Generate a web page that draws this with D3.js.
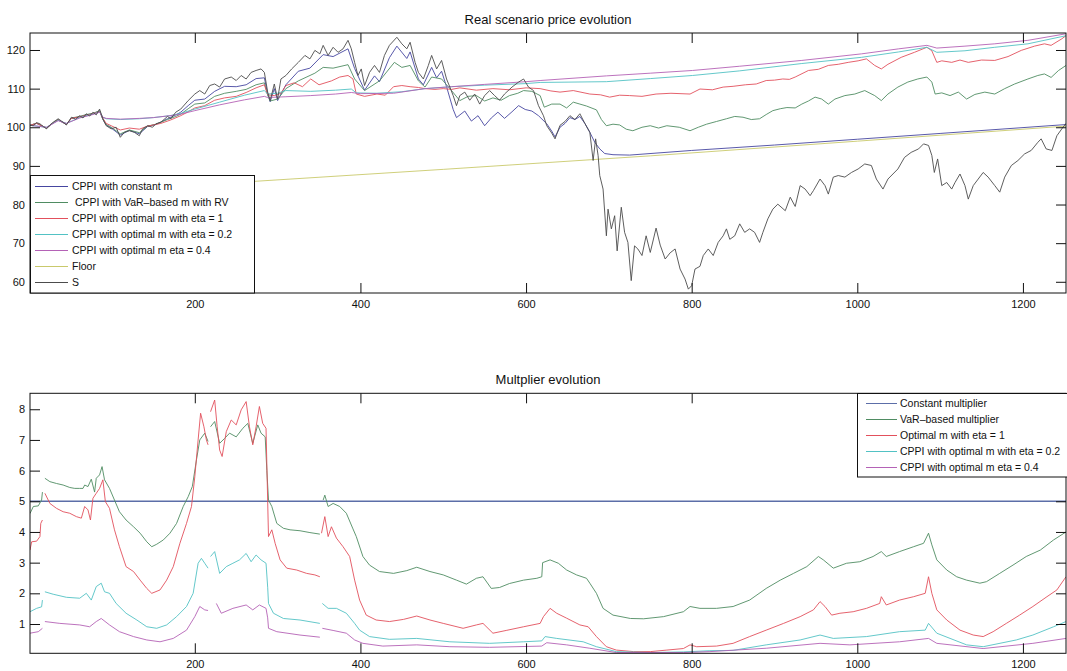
<!DOCTYPE html>
<html>
<head>
<meta charset="utf-8">
<script src="https://cdn.jsdelivr.net/npm/d3@7/dist/d3.min.js"></script>
<style>
  html, body { margin: 0; padding: 0; background: #fff; }
  svg { display: block; }
  text { font-family: "Liberation Sans", Arial, Helvetica, sans-serif; fill: #111; }
</style>
</head>
<body>
<svg id="fig" width="1067" height="671"></svg>
<script>
// ---------- data: [day, value]; null marks a gap ----------
const xTicks = [200, 400, 600, 800, 1000, 1200];
const priceTicks = [60, 70, 80, 90, 100, 110, 120];
const multTicks = [1, 2, 3, 4, 5, 6, 7, 8];

const priceS = [[1,100.5],[5,100.4],[9,101.2],[13,100.9],[17,100.2],[21,99.6],[25,100.6],[29,101.3],[35,102.2],[41,101.3],[45,100.6],[51,102.6],[56,102.1],[61,103.0],[65,102.4],[69,103.5],[73,102.9],[77,103.9],[81,103.2],[85,104.7],[89,102.2],[93,100.4],[99,99.6],[105,100.0],[110,97.4],[115,98.7],[121,99.1],[127,98.7],[133,97.8],[137,99.6],[143,100.4],[149,100.0],[153,100.9],[159,101.3],[167,102.8],[171,102.2],[177,103.9],[183,104.7],[192,106.9],[200,108.6],[206,109.5],[212,108.6],[218,110.8],[224,111.2],[230,110.4],[236,112.5],[244,113.0],[250,112.1],[256,113.4],[262,112.5],[268,114.2],[274,114.7],[280,115.1],[284,114.2],[288,109.1],[291,106.9],[296,111.2],[300,107.3],[304,112.5],[310,113.4],[317,115.1],[325,116.8],[333,118.6],[339,117.7],[345,119.9],[351,119.0],[355,121.2],[361,118.6],[367,120.7],[373,119.4],[379,120.3],[385,122.5],[389,120.3],[393,116.8],[397,113.4],[401,115.1],[405,110.8],[411,114.2],[417,116.0],[423,114.2],[429,118.6],[435,121.2],[444,123.3],[450,121.6],[456,120.3],[460,122.0],[466,116.8],[470,114.2],[476,112.5],[482,116.0],[486,118.6],[492,115.1],[498,117.3],[504,112.5],[508,110.4],[512,108.2],[516,105.6],[520,108.2],[526,109.1],[532,107.0],[538,108.6],[544,106.0],[550,108.2],[556,109.5],[562,108.2],[568,107.0],[574,108.6],[583,110.4],[591,111.7],[597,112.5],[603,110.4],[609,109.5],[615,105.6],[621,103.0],[625,100.4],[631,98.5],[635,97.0],[641,100.5],[647,101.5],[653,103.0],[659,102.0],[665,103.5],[671,101.0],[677,98.7],[681,91.4],[684,97.0],[687,92.7],[689,87.5],[693,84.0],[697,71.9],[699,78.8],[703,73.7],[707,77.1],[710,68.0],[715,79.3],[719,72.8],[723,70.2],[727,60.3],[731,69.3],[735,68.5],[740,66.8],[745,71.9],[750,67.6],[757,73.9],[762,69.5],[768,65.9],[774,67.5],[780,68.5],[786,63.3],[792,60.7],[796,58.1],[800,59.0],[804,63.3],[810,64.0],[814,66.8],[820,68.5],[826,66.8],[832,70.2],[838,71.9],[842,73.7],[846,71.0],[852,71.9],[858,75.0],[864,72.8],[870,73.7],[876,72.8],[882,70.2],[886,72.8],[892,76.3],[898,78.8],[904,80.1],[913,78.4],[919,81.9],[925,79.5],[931,84.9],[937,84.0],[943,82.3],[947,83.6],[955,86.6],[961,84.9],[965,82.7],[971,87.1],[977,87.5],[985,87.1],[993,88.3],[1001,89.2],[1009,90.5],[1017,90.1],[1023,86.6],[1031,84.0],[1037,86.6],[1043,87.9],[1049,89.2],[1057,92.2],[1065,93.5],[1074,94.4],[1080,95.7],[1086,95.3],[1090,92.7],[1093,88.3],[1097,91.8],[1102,84.9],[1108,85.7],[1114,84.0],[1118,85.7],[1124,87.9],[1130,84.9],[1134,81.4],[1140,84.9],[1146,86.6],[1152,88.3],[1158,87.1],[1166,84.9],[1172,83.2],[1178,87.1],[1186,90.1],[1194,91.4],[1202,93.1],[1210,94.0],[1218,96.1],[1222,97.0],[1228,94.4],[1235,94.0],[1241,97.8],[1247,99.6],[1252,101.0]];

const cppiConst = [[1,100.5],[9,101.0],[21,99.8],[29,101.1],[35,101.9],[45,100.7],[51,102.3],[61,102.7],[69,103.2],[77,103.5],[85,104.2],[89,102.0],[93,100.6],[99,99.8],[110,98.0],[121,99.2],[133,98.3],[143,100.2],[153,100.7],[167,102.2],[177,103.2],[183,103.9],[192,105.6],[200,107.0],[212,107.3],[224,109.3],[236,110.6],[250,110.5],[262,111.0],[274,112.6],[284,112.8],[288,108.6],[291,106.6],[296,110.0],[300,106.9],[310,111.0],[325,114.5],[339,115.3],[355,118.8],[367,118.3],[385,120.3],[393,115.2],[405,109.6],[417,113.3],[423,111.8],[435,118.0],[444,121.0],[456,117.8],[460,119.5],[470,112.5],[476,111.0],[486,115.5],[492,112.8],[498,114.5],[504,110.5],[512,104.6],[516,102.5],[526,104.2],[534,101.6],[542,103.0],[550,100.4],[558,102.4],[566,103.9],[574,102.3],[583,104.0],[591,105.6],[599,104.6],[607,104.2],[615,103.0],[625,100.9],[631,99.0],[635,97.5],[641,100.0],[647,101.0],[653,102.5],[659,102.0],[665,102.8],[671,101.0],[677,98.7],[683,96.1],[689,94.4],[695,93.2],[705,92.9],[725,92.8],[800,94.0],[900,95.4],[1000,96.9],[1100,98.4],[1252,100.7]];

const cppiVaR = [[1,100.5],[9,101.1],[21,99.7],[29,101.2],[35,102.0],[45,100.7],[51,102.4],[61,102.8],[69,103.3],[77,103.6],[85,104.3],[89,102.1],[93,100.7],[99,100.0],[110,98.3],[121,99.3],[133,98.6],[143,100.3],[153,100.8],[167,102.0],[177,102.8],[183,103.4],[192,104.8],[200,106.0],[212,106.3],[224,108.0],[236,108.8],[250,109.3],[262,109.8],[274,111.0],[284,111.5],[288,108.3],[291,106.8],[300,107.3],[310,110.0],[325,112.0],[345,114.0],[355,115.5],[367,115.3],[385,116.2],[393,112.5],[405,109.5],[423,112.0],[441,116.8],[450,115.5],[460,116.0],[470,112.0],[478,110.4],[486,113.0],[498,112.5],[504,111.0],[510,109.5],[520,106.9],[530,108.0],[540,108.2],[550,106.8],[560,107.6],[570,107.0],[580,108.2],[590,108.8],[597,109.5],[607,109.3],[617,108.2],[622,105.2],[631,106.0],[641,106.0],[649,105.0],[657,106.5],[665,106.0],[673,105.5],[685,104.5],[691,102.0],[697,100.4],[705,100.8],[713,100.6],[721,99.5],[729,99.1],[740,100.0],[750,100.4],[760,99.8],[770,100.4],[785,100.0],[798,99.1],[808,100.0],[818,100.8],[830,101.5],[842,102.2],[852,102.8],[862,102.6],[872,102.0],[882,102.2],[890,103.3],[898,104.3],[907,104.8],[915,105.1],[925,105.0],[933,106.0],[941,106.8],[949,107.8],[957,107.3],[965,106.0],[973,107.3],[985,108.2],[997,108.6],[1009,109.5],[1021,108.2],[1029,106.9],[1037,108.6],[1049,110.4],[1061,111.7],[1073,112.5],[1084,113.0],[1090,111.7],[1094,108.6],[1102,108.9],[1112,108.2],[1122,109.1],[1132,107.3],[1142,108.5],[1154,109.1],[1166,108.6],[1178,110.0],[1190,111.2],[1206,112.5],[1218,113.4],[1226,113.8],[1234,112.9],[1243,114.7],[1252,116.0]];

const cppiEta1 = [[1,100.5],[9,101.0],[21,99.8],[29,101.1],[35,101.9],[45,100.8],[51,102.3],[61,102.7],[69,103.1],[77,103.5],[85,104.1],[89,102.3],[93,101.0],[99,100.4],[110,99.3],[121,99.8],[133,99.5],[143,100.3],[159,101.0],[171,101.9],[183,103.0],[192,104.0],[200,105.0],[212,105.6],[224,107.0],[236,107.6],[250,108.0],[262,109.0],[274,110.2],[284,111.0],[288,108.4],[296,108.2],[304,108.8],[310,110.8],[320,111.5],[330,110.5],[340,112.5],[350,111.0],[365,112.0],[375,113.0],[385,113.4],[391,112.5],[395,108.6],[405,108.0],[420,108.6],[430,108.3],[440,110.5],[450,110.8],[460,110.5],[470,110.3],[478,110.0],[490,109.8],[500,110.0],[510,109.8],[520,110.2],[540,109.6],[560,110.0],[580,109.7],[600,110.2],[617,110.0],[630,109.4],[641,109.1],[657,109.5],[677,108.6],[690,108.4],[701,107.8],[713,108.3],[725,108.2],[740,108.0],[757,108.6],[775,108.8],[798,108.6],[810,109.9],[825,109.7],[838,110.4],[850,110.6],[865,111.0],[878,111.2],[890,112.1],[900,112.2],[910,112.5],[918,112.4],[925,113.0],[941,114.7],[953,115.0],[965,116.0],[977,116.3],[989,116.8],[1001,117.2],[1011,117.7],[1021,116.0],[1029,115.1],[1037,116.3],[1053,118.1],[1069,119.4],[1084,120.7],[1090,119.8],[1096,116.8],[1102,117.2],[1114,116.8],[1124,117.4],[1134,116.8],[1150,117.4],[1166,117.3],[1182,118.3],[1198,119.9],[1214,121.0],[1226,121.6],[1234,121.2],[1247,122.9],[1252,123.7]];

const cppiEta02 = [[1,100.5],[21,100.0],[35,101.8],[45,101.0],[61,102.5],[77,103.4],[85,104.0],[89,102.6],[93,102.2],[110,102.0],[133,102.2],[150,102.5],[170,103.0],[183,103.6],[200,104.7],[230,106.5],[260,108.3],[284,109.5],[288,108.6],[300,108.8],[310,109.5],[340,109.3],[370,109.6],[389,109.9],[395,108.9],[420,108.8],[450,109.2],[478,110.0],[510,110.5],[550,110.9],[600,111.3],[617,111.6],[697,111.8],[750,112.6],[801,113.4],[858,114.6],[933,116.5],[1005,118.1],[1050,119.5],[1084,120.7],[1096,119.4],[1130,119.8],[1166,120.7],[1206,121.6],[1252,123.7]];

const cppiEta04 = [[1,100.5],[21,100.0],[35,101.7],[45,101.0],[61,102.4],[77,103.3],[85,103.9],[89,102.6],[93,102.3],[110,102.1],[133,102.3],[150,102.5],[170,103.0],[183,103.4],[200,104.3],[230,105.8],[260,107.1],[284,108.0],[288,107.7],[310,107.9],[340,108.2],[370,108.6],[389,109.0],[400,108.7],[440,108.8],[478,110.0],[510,110.5],[550,111.1],[600,111.8],[617,112.1],[697,113.3],[750,114.0],[801,114.7],[858,115.8],[933,117.3],[1005,119.0],[1050,120.3],[1084,121.2],[1096,120.5],[1130,121.0],[1166,121.6],[1206,122.5],[1252,124.2]];

const floorLevel = [[1,82.4],[250,85.7],[500,89.1],[750,92.6],[1000,96.4],[1252,100.3]];

const multConst = [[1,5],[1252,5]];

const multVaR = [[1,4.6],[5,4.83],[11,4.85],[15,5.04],[16,5.3],[17,null],[19,5.75],[25,5.64],[33,5.58],[41,5.53],[49,5.45],[55,5.42],[61,5.42],[65,5.42],[67,5.53],[71,5.48],[75,5.72],[79,5.3],[81,5.75],[85,5.86],[88,6.13],[91,5.7],[97,5.42],[103,5.04],[109,4.66],[117,4.39],[126,4.17],[134,3.96],[142,3.68],[148,3.52],[154,3.6],[162,3.74],[170,3.96],[178,4.28],[186,4.83],[192,5.15],[197,5.48],[202,6.35],[206,7.0],[212,7.22],[216,6.95],[217,null],[219,7.43],[224,7.6],[230,6.89],[236,7.05],[242,7.22],[250,7.1],[258,7.38],[264,7.54],[270,6.89],[276,7.49],[280,7.22],[285,7.1],[287,6.0],[289,5.04],[293,4.83],[299,4.28],[307,4.12],[315,4.07],[327,4.04],[339,3.98],[351,3.93],[353,null],[355,5.04],[357,5.2],[361,4.83],[367,4.93],[375,4.83],[383,4.61],[391,4.1],[395,3.85],[403,3.2],[411,2.92],[423,2.71],[440,2.65],[456,2.74],[468,2.85],[484,2.71],[500,2.6],[516,2.43],[528,2.3],[540,2.49],[548,2.54],[558,2.16],[568,2.19],[580,2.32],[597,2.43],[613,2.49],[619,2.54],[620,3.0],[629,3.09],[639,2.98],[649,2.76],[661,2.6],[673,2.49],[677,2.33],[685,2.0],[693,1.51],[705,1.29],[726,1.18],[742,1.17],[766,1.24],[790,1.4],[798,1.57],[810,1.51],[830,1.51],[850,1.57],[870,1.78],[890,2.16],[907,2.43],[923,2.65],[939,2.87],[953,3.2],[959,3.09],[971,2.82],[987,2.98],[1003,3.03],[1019,3.2],[1029,3.36],[1035,3.2],[1051,3.36],[1068,3.52],[1080,3.63],[1086,3.96],[1090,3.58],[1096,3.09],[1108,2.76],[1120,2.54],[1132,2.43],[1148,2.33],[1156,2.38],[1172,2.65],[1188,2.92],[1204,3.2],[1221,3.41],[1237,3.74],[1252,4.0]];

const multEta1 = [[1,3.41],[3,3.68],[9,3.7],[13,3.85],[14,4.28],[16,4.39],[17,null],[19,5.26],[25,4.93],[33,4.77],[41,4.66],[49,4.61],[57,4.5],[63,4.45],[67,4.83],[71,4.72],[74,4.39],[77,5.1],[81,5.26],[85,5.42],[89,5.7],[92,4.99],[97,4.77],[103,4.07],[109,3.52],[117,2.87],[126,2.71],[134,2.43],[142,2.16],[148,2.0],[158,2.11],[166,2.43],[174,2.87],[182,3.63],[190,4.28],[196,4.83],[200,5.8],[204,7.0],[207,7.87],[211,7.43],[214,7.0],[216,6.84],[217,null],[219,7.92],[224,8.3],[227,7.43],[230,6.67],[233,6.46],[238,7.27],[244,7.65],[250,7.49],[256,7.98],[262,8.25],[266,7.43],[270,6.84],[274,7.43],[278,8.09],[282,7.54],[286,7.38],[288,5.0],[289,3.85],[293,4.07],[297,3.63],[303,3.09],[311,2.82],[323,2.76],[335,2.65],[345,2.6],[351,2.54],[352,null],[353,3.96],[357,4.5],[361,3.85],[365,4.17],[371,3.8],[379,3.52],[387,3.2],[393,2.43],[399,1.78],[407,1.29],[419,1.13],[435,1.08],[452,1.15],[468,1.26],[484,1.13],[500,1.02],[524,0.86],[540,0.97],[548,1.02],[560,0.7],[576,0.79],[597,0.91],[617,1.02],[621,1.24],[629,1.51],[637,1.35],[649,1.19],[665,0.97],[675,0.91],[685,0.59],[697,0.26],[709,0.15],[730,0.1],[750,0.1],[770,0.15],[790,0.2],[798,0.32],[806,0.26],[830,0.28],[850,0.37],[870,0.59],[890,0.8],[911,1.02],[931,1.24],[947,1.46],[955,1.73],[961,1.57],[969,1.29],[979,1.35],[995,1.4],[1011,1.51],[1027,1.67],[1029,1.89],[1035,1.62],[1051,1.78],[1068,1.89],[1082,2.0],[1086,2.54],[1090,2.0],[1096,1.46],[1108,1.13],[1124,0.8],[1140,0.64],[1152,0.59],[1164,0.75],[1180,1.02],[1196,1.29],[1212,1.57],[1229,1.89],[1241,2.11],[1252,2.54]];

const multEta02 = [[1,1.4],[9,1.51],[15,1.56],[16,1.78],[17,null],[19,2.05],[29,1.97],[45,1.87],[61,1.84],[69,2.0],[75,1.78],[81,2.22],[87,2.33],[91,2.05],[97,2.0],[105,1.67],[117,1.35],[130,1.13],[142,0.91],[154,0.86],[166,0.97],[178,1.24],[190,1.57],[198,2.0],[204,2.98],[208,3.14],[212,2.98],[216,2.82],[217,null],[219,3.2],[224,3.36],[230,2.65],[238,2.87],[246,2.98],[254,3.09],[262,3.3],[268,3.03],[274,3.25],[280,3.09],[286,2.98],[288,2.2],[289,1.67],[295,1.35],[307,1.18],[327,1.13],[351,1.02],[352,null],[354,1.67],[361,1.51],[371,1.51],[383,1.35],[393,1.02],[399,0.8],[411,0.59],[435,0.5],[468,0.53],[508,0.42],[556,0.37],[597,0.42],[619,0.45],[623,0.59],[637,0.53],[669,0.42],[685,0.26],[709,0.1],[750,0.07],[790,0.09],[822,0.13],[850,0.14],[890,0.32],[931,0.48],[955,0.64],[971,0.53],[1011,0.59],[1051,0.75],[1082,0.8],[1086,1.02],[1096,0.7],[1132,0.32],[1152,0.26],[1192,0.48],[1212,0.64],[1237,0.91],[1252,1.08]];

const multEta04 = [[1,0.7],[11,0.75],[16,0.86],[17,null],[19,1.08],[37,1.02],[61,0.97],[73,0.91],[81,1.08],[87,1.18],[97,0.97],[109,0.75],[126,0.59],[142,0.48],[158,0.42],[174,0.53],[190,0.8],[200,1.24],[206,1.57],[212,1.46],[216,1.44],[217,null],[226,1.67],[232,1.35],[246,1.51],[262,1.62],[270,1.46],[278,1.62],[286,1.51],[288,1.2],[289,0.86],[299,0.75],[327,0.64],[351,0.57],[352,null],[354,0.86],[367,0.79],[383,0.7],[393,0.48],[403,0.37],[427,0.28],[468,0.32],[508,0.26],[556,0.24],[619,0.28],[625,0.39],[649,0.32],[677,0.21],[709,0.07],[790,0.07],[822,0.1],[890,0.21],[955,0.37],[991,0.32],[1051,0.42],[1086,0.53],[1096,0.37],[1152,0.2],[1212,0.37],[1252,0.53]];

// MATLAB-style line colours, softened
const C = {
  blue: "#4646a0", green: "#4f8c62", red: "#e2505c", cyan: "#52c2c4",
  magenta: "#b462b6", yellow: "#c9c96c", black: "#4c4c4c"
};

const priceSeries = [
  { name: "CPPI with constant m", data: cppiConst, color: C.blue },
  { name: "\u00a0CPPI with VaR\u2013based m with RV", data: cppiVaR, color: C.green },
  { name: "CPPI with optimal m with eta = 1", data: cppiEta1, color: C.red },
  { name: "CPPI with optimal m with eta = 0.2", data: cppiEta02, color: C.cyan },
  { name: "CPPI with optimal m eta = 0.4", data: cppiEta04, color: C.magenta },
  { name: "Floor", data: floorLevel, color: C.yellow },
  { name: "S", data: priceS, color: C.black }
];

const multSeries = [
  { name: "Constant multiplier", data: multConst, color: "#5c6ea8", width: 1.4 },
  { name: "VaR\u2013based multiplier", data: multVaR, color: C.green },
  { name: "Optimal m with eta = 1", data: multEta1, color: C.red },
  { name: "CPPI with optimal m with eta = 0.2", data: multEta02, color: C.cyan },
  { name: "CPPI with optimal m eta = 0.4", data: multEta04, color: C.magenta }
];

// ---------- drawing ----------
const svg = d3.select("#fig");

function panel(opts) {
  const { top, bottom, yDomain, yTicks, series, title, legend, clipId } = opts;
  const left = 30, right = 1066;
  const x = d3.scaleLinear().domain([1, 1252]).range([left, right]);
  const y = d3.scaleLinear().domain(yDomain).range([bottom, top]);
  const g = svg.append("g");

  g.append("clipPath").attr("id", clipId)
    .append("rect").attr("x", left).attr("y", top)
    .attr("width", right - left).attr("height", bottom - top);

  const line = d3.line()
    .defined(d => d[1] != null)
    .x(d => x(d[0])).y(d => y(d[1]));

  g.append("g").attr("clip-path", `url(#${clipId})`)
    .selectAll("path").data(series).join("path")
    .attr("d", s => line(s.data))
    .attr("fill", "none")
    .attr("stroke", s => s.color)
    .attr("stroke-width", s => s.width || 0.9)
    .attr("stroke-linejoin", "round");

  // axes with inward ticks on all four sides
  const tk = 10;
  const axStyle = sel => {
    sel.select(".domain").remove();
    sel.selectAll(".tick line").attr("stroke", "#111");
    sel.selectAll(".tick text").attr("font-size", 11)
      .attr("font-family", '"Liberation Sans", Arial, sans-serif').attr("fill", "#111");
  };
  g.append("g").attr("transform", `translate(0,${bottom})`)
    .call(d3.axisBottom(x).tickValues(xTicks).tickSize(-tk).tickPadding(7).tickFormat(d3.format("d")))
    .call(axStyle);
  g.append("g").attr("transform", `translate(0,${top})`)
    .call(d3.axisTop(x).tickValues(xTicks).tickSize(-tk).tickFormat(""))
    .call(axStyle);
  g.append("g").attr("transform", `translate(${left},0)`)
    .call(d3.axisLeft(y).tickValues(yTicks).tickSize(-tk).tickPadding(5).tickFormat(d3.format("d")))
    .call(axStyle);
  g.append("g").attr("transform", `translate(${right},0)`)
    .call(d3.axisRight(y).tickValues(yTicks).tickSize(-tk).tickFormat(""))
    .call(axStyle);

  g.append("rect").attr("x", left).attr("y", top)
    .attr("width", right - left).attr("height", bottom - top)
    .attr("fill", "none").attr("stroke", "#111").attr("stroke-width", 1);

  g.append("text").attr("x", (left + right) / 2).attr("y", top - 9)
    .attr("text-anchor", "middle").attr("font-size", 13).text(title);

  // legend
  const L = legend;
  const lg = g.append("g");
  lg.append("rect").attr("x", L.x).attr("y", L.y)
    .attr("width", L.w).attr("height", L.h)
    .attr("fill", "#fff").attr("stroke", "#111").attr("stroke-width", 1);
  const rows = lg.selectAll("g.row").data(series).join("g").attr("class", "row")
    .attr("transform", (d, i) => `translate(0,${L.y0 + i * 16})`);
  rows.append("line").attr("x1", L.lx0).attr("x2", L.lx1)
    .attr("stroke", d => d.color).attr("stroke-width", 1);
  rows.append("text").attr("x", L.tx).attr("dy", "0.35em")
    .attr("font-size", 10.5).style("white-space", "pre").text(d => d.name);
}

panel({
  top: 33, bottom: 293, yDomain: [57.1, 124.4], yTicks: priceTicks,
  series: priceSeries, title: "Real scenario price evolution", clipId: "clipPrice",
  legend: { x: 30.5, y: 175.5, w: 224, h: 117.5, y0: 186.5, lx0: 35, lx1: 68, tx: 72 }
});

panel({
  top: 393.3, bottom: 653.3, yDomain: [0.045, 8.52], yTicks: multTicks,
  series: multSeries, title: "Multplier evolution", clipId: "clipMult",
  legend: { x: 857.5, y: 393.5, w: 215, h: 83.5, y0: 403.5, lx0: 866, lx1: 897, tx: 900 }
});
</script>
</body>
</html>
